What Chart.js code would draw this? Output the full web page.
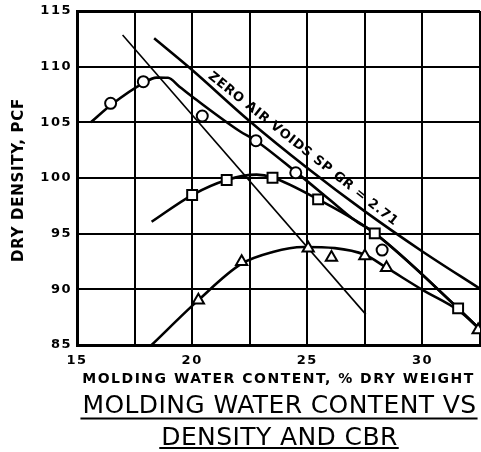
<!DOCTYPE html>
<html><head><meta charset="utf-8">
<script src="https://cdn.jsdelivr.net/npm/chart.js@4.4.1/dist/chart.umd.min.js"></script>
<style>html,body{margin:0;padding:0;background:#fff;overflow:hidden}canvas{display:block}</style>
</head><body><canvas id="c" width="481" height="452" style="width:481px;height:452px"></canvas>
<script>
// ---- data ----
const xTicks = [15, 17.5, 20, 22.5, 25, 27.5, 30, 32.5];
const xLabelValues = [15, 20, 25, 30];
const yTicks = [85, 90, 95, 100, 105, 110, 115];

// zero air voids line (Gs = 2.71)
const zavW = [18.35, 20, 22.5, 25, 27.5, 30, 32.5];
const zavD = [112.55, 109.7, 105.1, 100.9, 97.0, 93.4, 90.05];

// thin straight line
const optW = [16.98, 27.54];
const optD = [112.85, 87.75];

// curve through circles
const circCurveW = [15.6, 16.5, 17.9, 18.45, 18.95, 19.45, 20.2, 22.07, 22.77, 24.5, 26.0, 27.0, 27.93, 31.55, 32.5];
const circCurveD = [105.0, 106.6, 108.55, 109.02, 109.0, 108.2, 107.0, 104.2, 103.35, 100.55, 98.0, 96.3, 95.03, 88.29, 86.4];
// curve through squares
const sqCurveW = [18.24, 20.0, 21.5, 22.8, 23.49, 25.47, 27.93, 31.55, 32.5];
const sqCurveD = [96.07, 98.47, 99.82, 100.3, 100.05, 98.08, 95.03, 88.29, 86.4];
// curve through triangles
const triCurveW = [18.24, 20.27, 22.15, 23.5, 24.82, 26.2, 27.5, 28.44, 30.0, 31.6, 32.5];
const triCurveD = [85.0, 89.03, 92.3, 93.35, 93.8, 93.7, 93.1, 91.94, 89.95, 88.05, 86.4];

// plotted test points
const circW = [16.46, 17.88, 20.44, 22.77, 24.5, 28.25];
const circD = [106.71, 108.65, 105.57, 103.35, 100.47, 93.53];
const sqW = [20.0, 21.5, 23.49, 25.47, 27.93, 31.55];
const sqD = [98.47, 99.82, 100.02, 98.08, 95.03, 88.29];
const triW = [20.27, 22.15, 25.04, 26.05, 27.5, 28.44, 32.42];
const triD = [89.03, 92.47, 93.68, 92.87, 93.0, 91.94, 86.34];

const xTitle = 'MOLDING WATER CONTENT, % DRY WEIGHT';
const yTitle = 'DRY DENSITY, PCF';
const titleLines = ['MOLDING WATER CONTENT VS', 'DENSITY AND CBR'];
const zavLabel = 'ZERO AIR VOIDS SP GR = 2.71';
const zavLabelRange = [20.5, 28.7];

// ---- helpers ----
const pts = (w, d) => w.map((x, i) => ({x, y: d[i]}));
const lineDs = (w, d, width) => ({data: pts(w, d), showLine: true, borderColor: '#000', borderWidth: width,
  pointRadius: 0, pointHoverRadius: 0, cubicInterpolationMode: 'monotone', fill: false});
const markDs = (w, d, style, r) => ({data: pts(w, d), showLine: false, pointStyle: style, pointRadius: r,
  pointHoverRadius: r, pointBackgroundColor: '#fff', pointBorderColor: '#000', pointBorderWidth: 2});
const interp = (w, xs, ys) => {
  for (let i = 0; i < xs.length - 1; i++) {
    if (w >= xs[i] && w <= xs[i + 1]) return ys[i] + (w - xs[i]) / (xs[i + 1] - xs[i]) * (ys[i + 1] - ys[i]);
  }
  return ys[ys.length - 1];
};

const textPlugin = {
  id: 'texts',
  beforeDraw(chart) { chart.ctx.letterSpacing = '1.5px'; },
  afterDraw(chart) {
    const ctx = chart.ctx, ca = chart.chartArea, xs = chart.scales.x, ys = chart.scales.y;
    ctx.save();
    ctx.fillStyle = '#000'; ctx.strokeStyle = '#000';
    // y title
    ctx.save();
    ctx.font = 'bold 15px "DejaVu Sans"';
    ctx.letterSpacing = '0.7px';
    ctx.translate(19, (ca.top + ca.bottom) / 2 + 2);
    ctx.rotate(-Math.PI / 2);
    ctx.textAlign = 'center'; ctx.textBaseline = 'middle';
    ctx.fillText(yTitle, 0, 0);
    ctx.restore();
    // x title
    ctx.font = 'bold 14px "DejaVu Sans"';
    ctx.letterSpacing = '1.5px';
    ctx.textAlign = 'center'; ctx.textBaseline = 'alphabetic';
    const cx = (ca.left + ca.right) / 2;
    ctx.fillText(xTitle, cx, 383);
    // big title with underlines
    ctx.font = '25px "DejaVu Sans"';
    ctx.letterSpacing = '0.4px';
    const base = [413, 445], ul = [418.5, 448];
    titleLines.forEach((t, i) => {
      const w = ctx.measureText(t).width;
      ctx.fillText(t, cx + 1, base[i]);
      ctx.lineWidth = 2;
      ctx.beginPath();
      ctx.moveTo(cx - w / 2 - 1, ul[i]); ctx.lineTo(cx + w / 2 + 2, ul[i]);
      ctx.stroke();
    });
    // zero air voids label, along the line
    const p1 = {x: xs.getPixelForValue(zavLabelRange[0]), y: ys.getPixelForValue(interp(zavLabelRange[0], zavW, zavD))};
    const p2 = {x: xs.getPixelForValue(zavLabelRange[1]), y: ys.getPixelForValue(interp(zavLabelRange[1], zavW, zavD))};
    const ang = Math.atan2(p2.y - p1.y, p2.x - p1.x);
    const mx = (p1.x + p2.x) / 2, my = (p1.y + p2.y) / 2;
    ctx.save();
    ctx.translate(mx + 8 * Math.sin(ang), my - 8 * Math.cos(ang));
    ctx.rotate(ang);
    ctx.font = 'bold 13px "DejaVu Sans"';
    ctx.letterSpacing = '0.7px';
    ctx.textAlign = 'center'; ctx.textBaseline = 'middle';
    ctx.fillText(zavLabel, 0, 0);
    ctx.restore();
    ctx.restore();
  }
};

const tickFont = {family: 'DejaVu Sans', weight: 'bold', size: 13};
new Chart(document.getElementById('c'), {
  type: 'scatter',
  data: {datasets: [
    markDs(circW, circD, 'circle', 5.5),
    markDs(sqW, sqD, 'rect', 7),
    markDs(triW, triD, 'triangle', 6.5),
    lineDs(zavW, zavD, 2.6),
    lineDs(optW, optD, 1.6),
    lineDs(circCurveW, circCurveD, 2.6),
    lineDs(sqCurveW, sqCurveD, 2.6),
    lineDs(triCurveW, triCurveD, 2.6)
  ]},
  options: {
    responsive: false, animation: false, devicePixelRatio: 1,
    layout: {autoPadding: false, padding: {left: 0, right: 1, top: 11, bottom: 0}},
    plugins: {legend: {display: false}, tooltip: {enabled: false}, title: {display: false}},
    scales: {
      x: {
        type: 'linear', min: 15, max: 32.5,
        afterBuildTicks: s => { s.ticks = xTicks.map(v => ({value: v})); },
        afterFit: s => { s.height = 107; s.paddingRight = 0; s.paddingLeft = 0; },
        ticks: {callback: v => xLabelValues.includes(v) ? String(v) : '', font: tickFont, color: '#000',
          padding: 8, maxRotation: 0, autoSkip: false},
        grid: {color: '#000', drawTicks: false, lineWidth: c => (c.tick && c.tick.value === 32.5) ? 3 : 2},
        border: {color: '#000', width: 3}
      },
      y: {
        type: 'linear', min: 85, max: 115,
        afterBuildTicks: s => { s.ticks = yTicks.map(v => ({value: v})); },
        afterFit: s => { s.width = 77; s.paddingTop = 0; s.paddingBottom = 0; },
        ticks: {font: tickFont, color: '#000', padding: 5, autoSkip: false},
        grid: {color: '#000', drawTicks: false, lineWidth: c => (c.tick && c.tick.value === 115) ? 3 : 2},
        border: {color: '#000', width: 3}
      }
    }
  },
  plugins: [textPlugin]
});
</script></body></html>
